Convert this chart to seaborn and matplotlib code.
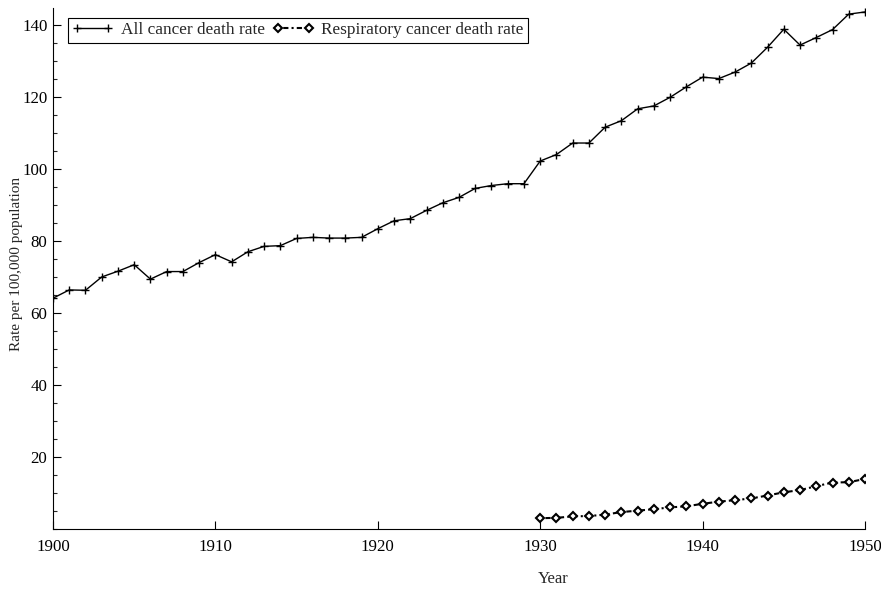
import numpy as np
import pandas as pd
import seaborn as sns
import matplotlib
matplotlib.use("Agg")
import matplotlib.pyplot as plt
from matplotlib.ticker import MultipleLocator

# values
years_all = list(range(1900, 1951))
all_cancer = [64.1, 66.4, 66.3, 70.0, 71.6, 73.4, 69.4, 71.5, 71.5, 74.0,
              76.2, 74.2, 77.0, 78.5, 78.7, 80.7, 81.0, 80.8, 80.8, 81.0,
              83.4, 85.6, 86.2, 88.5, 90.6, 92.1, 94.6, 95.4, 95.9, 95.9,
              102.2, 104.0, 107.2, 107.2, 111.6, 113.4, 116.7, 117.5, 119.9, 122.8,
              125.5, 125.1, 126.9, 129.4, 133.8, 138.8, 134.4, 136.5, 138.7, 143.0,
              143.6]
years_resp = list(range(1930, 1951))
resp_cancer = [3.0, 3.1, 3.5, 3.6, 4.0, 4.7, 5.1, 5.5, 6.0, 6.3,
               7.0, 7.6, 8.0, 8.5, 9.3, 10.2, 10.8, 11.9, 12.9, 13.0,
               13.9]

df_all = pd.DataFrame({"Year": years_all, "rate": all_cancer})
df_resp = pd.DataFrame({"Year": years_resp, "rate": resp_cancer})

sns.set_style("ticks")
plt.rcParams["font.family"] = ["Liberation Serif", "DejaVu Serif"]

fig = plt.figure(figsize=(8.81, 5.89), dpi=100)
ax = fig.add_axes([53/881, 1 - 529/589, (865-53)/881, (529-8)/589])

sns.lineplot(data=df_all, x="Year", y="rate", color="k", lw=1.0,
             marker="+", markersize=6, mew=1.0, mec="k", ax=ax,
             label="All cancer death rate")
sns.lineplot(data=df_resp, x="Year", y="rate", color="k", lw=1.5,
             linestyle=(0, (1, 1.5, 2.5, 1.5)), marker="D", markersize=4,
             mfc="white", mec="k", mew=1.5, ax=ax,
             label="Respiratory cancer death rate")

ax.set_xlim(1900, 1950)
ax.set_ylim(0, 144.7)
ax.set_xticks(range(1900, 1951, 10))
ax.set_yticks(range(20, 141, 20))
ax.yaxis.set_minor_locator(MultipleLocator(5))
ax.tick_params(axis="both", which="major", direction="in", length=6, width=0.8,
               labelsize=12.2, colors="k")
ax.tick_params(axis="y", which="minor", direction="in", length=3, width=0.8)
ax.tick_params(axis="x", pad=7)
ax.tick_params(axis="y", pad=4)
sns.despine(ax=ax)
for s in ["left", "bottom"]:
    ax.spines[s].set_color("k")
    ax.spines[s].set_linewidth(0.8)

ax.set_xlabel("Year", fontsize=12)
ax.set_ylabel("Rate per 100,000 population", fontsize=11)
ax.xaxis.set_label_coords(0.616, -0.08)
ax.yaxis.set_label_coords(-0.037, 0.508)

leg = ax.legend(loc="upper left", bbox_to_anchor=(0.0185, 0.981), ncol=2,
                fontsize=12.4, numpoints=2, handlelength=2.4, columnspacing=0.5,
                handletextpad=0.4, borderpad=0.25, fancybox=False, framealpha=1,
                edgecolor="k", borderaxespad=0)
leg.get_frame().set_linewidth(0.8)

fig.savefig("out.png", dpi=100)
